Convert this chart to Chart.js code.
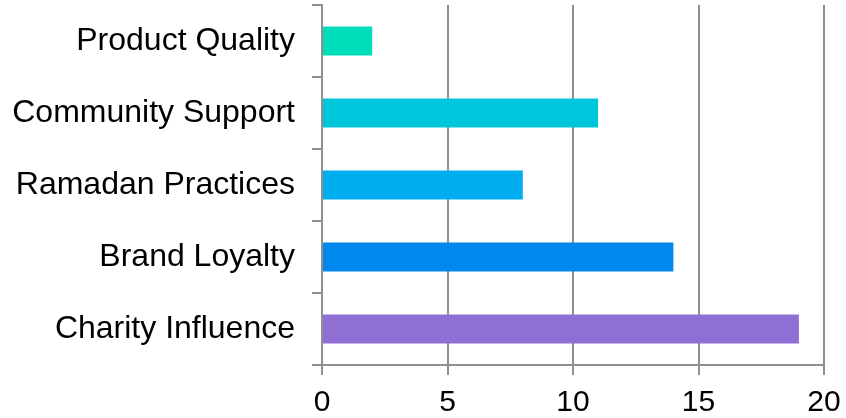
<!DOCTYPE html>
<html>
<head>
<meta charset="utf-8">
<script src="https://cdn.jsdelivr.net/npm/chart.js@4/dist/chart.umd.min.js"></script>
<style>
  html, body { margin: 0; padding: 0; background: #fff; }
  #wrap { width: 846px; height: 418px; position: relative; }
</style>
</head>
<body>
<div id="wrap"><canvas id="c"></canvas></div>
<script>
const categories = ["Product Quality", "Community Support", "Ramadan Practices", "Brand Loyalty", "Charity Influence"];
const values = [2, 11, 8, 14, 19];
const barColors = ["#00DDBB", "#00C6DC", "#00AEEF", "#0088EF", "#8F6FD4"];
const xTicks = [0, 5, 10, 15, 20];

const gridColor = "#8f8f8f";
const fam = "'Liberation Sans', Arial, sans-serif";

new Chart(document.getElementById("c"), {
  type: "bar",
  data: {
    labels: categories,
    datasets: [{
      data: values,
      backgroundColor: barColors,
      borderWidth: 0,
      categoryPercentage: 1,
      barPercentage: 0.4
    }]
  },
  options: {
    indexAxis: "y",
    responsive: true,
    maintainAspectRatio: false,
    animation: false,
    layout: { padding: { top: 5, right: 22, left: 0, bottom: 0 } },
    plugins: { legend: { display: false }, tooltip: { enabled: false } },
    scales: {
      x: {
        min: 0, max: 20,
        afterBuildTicks: s => { s.ticks = xTicks.map(v => ({ value: v })); },
        afterFit: s => { s.height = 53; s.paddingLeft = 0; s.paddingRight = 0; },
        grid: { color: gridColor, lineWidth: 2, drawTicks: true, tickLength: 10, tickColor: gridColor },
        border: { display: true, color: gridColor, width: 2 },
        ticks: { color: "#000", font: { family: fam, size: 30 }, padding: 10, maxRotation: 0 }
      },
      y: {
        afterFit: s => { s.width = 322; s.paddingTop = 0; s.paddingBottom = 0; },
        grid: { drawOnChartArea: false, drawTicks: true, tickLength: 10, color: gridColor, lineWidth: 2, offset: true },
        border: { display: true, color: gridColor, width: 2 },
        ticks: { color: "#000", font: { family: fam, size: 32 }, padding: 17 }
      }
    }
  }
});
</script>
</body>
</html>
